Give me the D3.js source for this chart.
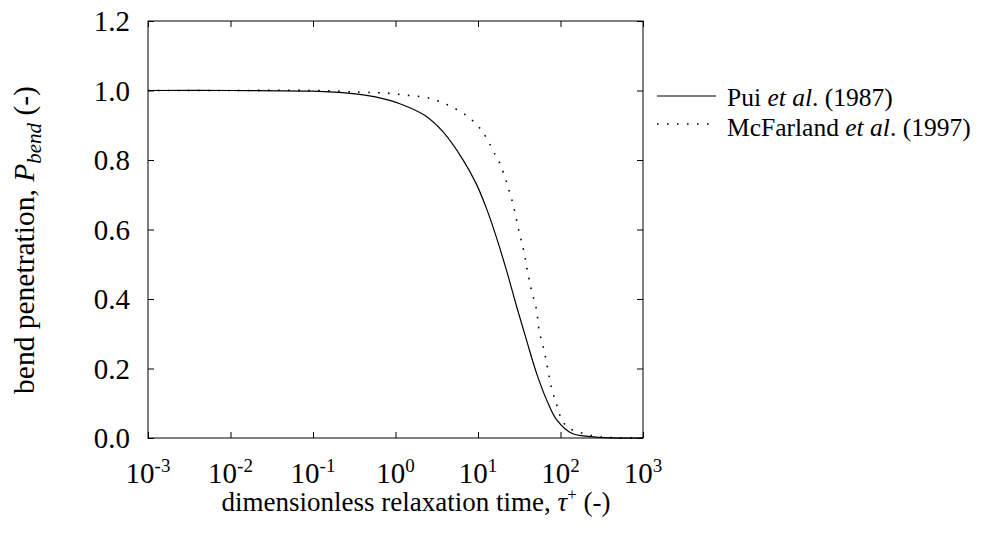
<!DOCTYPE html>
<html><head><meta charset="utf-8">
<script src="https://cdn.jsdelivr.net/npm/d3@7"></script>
<style>body{margin:0;background:#fff}svg{display:block}</style>
</head><body>
<script>
const puiTau = [0.001,0.01,0.1,0.28,0.59,1.13,2.28,3.8,6.64,9.5,12.7,16.8,22.3,29.5,38.9,51.3,68.1,90,137,229,400,1000];
const puiP   = [1.0,1.0,0.998,0.992,0.981,0.962,0.928,0.880,0.799,0.732,0.660,0.576,0.480,0.377,0.280,0.186,0.109,0.052,0.0135,0.004,0.0005,0];
const mcfTau = [0.001,0.01,0.1,0.37,0.81,1.41,2.45,4.17,7.24,9.6,11.9,16.1,18.5,22.3,26.3,31.6,36.1,39.8,44.7,51.3,55,63.1,70,78.2,90,102,123,164,219,300,500,1000];
const mcfP   = [1.0,1.0,1.0,0.995,0.992,0.986,0.979,0.960,0.928,0.902,0.874,0.816,0.789,0.734,0.677,0.592,0.535,0.480,0.423,0.368,0.310,0.253,0.200,0.143,0.095,0.057,0.030,0.018,0.009,0.003,0.001,0];
const xTicks = [-3,-2,-1,0,1,2,3];
const yTicks = [0,0.2,0.4,0.6,0.8,1.0,1.2];

const W=995,H=553;
const L=148,R=643,T=21,B=438;
const svg=d3.select("body").append("svg").attr("width",W).attr("height",H)
  .style("font-family","'Liberation Serif','Times New Roman',serif");
const x=d3.scaleLog().domain([1e-3,1e3]).range([L,R]);
const y=d3.scaleLinear().domain([0,1.2]).range([B,T]);

svg.append("rect").attr("x",L).attr("y",T).attr("width",R-L).attr("height",B-T)
  .attr("fill","none").attr("stroke","#000").attr("stroke-width",1);

const tl=6;
const xv=xTicks.map(e=>Math.pow(10,e));
[[d3.axisBottom(x).tickValues(xv),`translate(0,${B})`],
 [d3.axisTop(x).tickValues(xv),`translate(0,${T})`],
 [d3.axisLeft(y).tickValues(yTicks),`translate(${L},0)`],
 [d3.axisRight(y).tickValues(yTicks),`translate(${R},0)`]].forEach(([ax,tr])=>{
  const g=svg.append("g").attr("transform",tr).call(ax.tickSize(-tl).tickFormat(""));
  g.select(".domain").remove();
  g.selectAll(".tick line").attr("stroke","#000");
});

xTicks.forEach(e=>{
  const t=svg.append("text").attr("x",x(Math.pow(10,e))).attr("y",483)
    .attr("text-anchor","middle").attr("font-size",29).attr("fill","#000");
  t.append("tspan").text("10");
  t.append("tspan").attr("dy",-11).attr("font-size",19).text(String(e));
});
yTicks.forEach(v=>{
  svg.append("text").attr("x",130).attr("y",y(v)).attr("dy","0.35em")
    .attr("text-anchor","end").attr("font-size",29).attr("fill","#000").text(v.toFixed(1));
});

const xtT=svg.append("text").attr("x",416).attr("y",511).attr("text-anchor","middle")
  .attr("font-size",27).attr("fill","#000");
xtT.append("tspan").text("dimensionless relaxation time, ");
xtT.append("tspan").attr("font-style","italic").text("τ");
xtT.append("tspan").attr("dy",-11).attr("font-size",17).text("+");
xtT.append("tspan").attr("dy",11).text(" (-)");

const ytT=svg.append("text").attr("transform",`translate(34,240) rotate(-90)`)
  .attr("text-anchor","middle").attr("font-size",29.5).attr("fill","#000");
ytT.append("tspan").text("bend penetration, ");
ytT.append("tspan").attr("font-style","italic").text("P");
ytT.append("tspan").attr("font-style","italic").attr("dy",7).attr("font-size",21).text("bend");
ytT.append("tspan").attr("dy",-7).text(" (-)");

const line=d3.line().x(d=>x(d[0])).y(d=>y(d[1])).curve(d3.curveCatmullRom.alpha(0.5));
const pui=puiTau.map((t,i)=>[t,puiP[i]]);
const mcf=mcfTau.map((t,i)=>[t,mcfP[i]]);
svg.append("path").attr("d",line(pui)).attr("fill","none").attr("stroke","#000").attr("stroke-width",1.2);
svg.append("path").attr("d",line(mcf)).attr("fill","none").attr("stroke","#000").attr("stroke-width",1.6)
  .attr("stroke-dasharray","1.6,8.4");

const lg=svg.append("g");
lg.append("line").attr("x1",657).attr("x2",716).attr("y1",96).attr("y2",96).attr("stroke","#000").attr("stroke-width",1.2);
lg.append("line").attr("x1",657).attr("x2",716).attr("y1",124).attr("y2",124).attr("stroke","#000").attr("stroke-width",1.6).attr("stroke-dasharray","1.6,8.4");
function legText(yy,name,year){
  const t=lg.append("text").attr("x",727).attr("y",yy).attr("dy","0.35em").attr("font-size",25.5).attr("fill","#000");
  t.append("tspan").text(name+" ");
  t.append("tspan").attr("font-style","italic").text("et al");
  t.append("tspan").text(". "+year);
}
legText(97,"Pui","(1987)");
legText(127,"McFarland","(1997)");
</script>
</body></html>
